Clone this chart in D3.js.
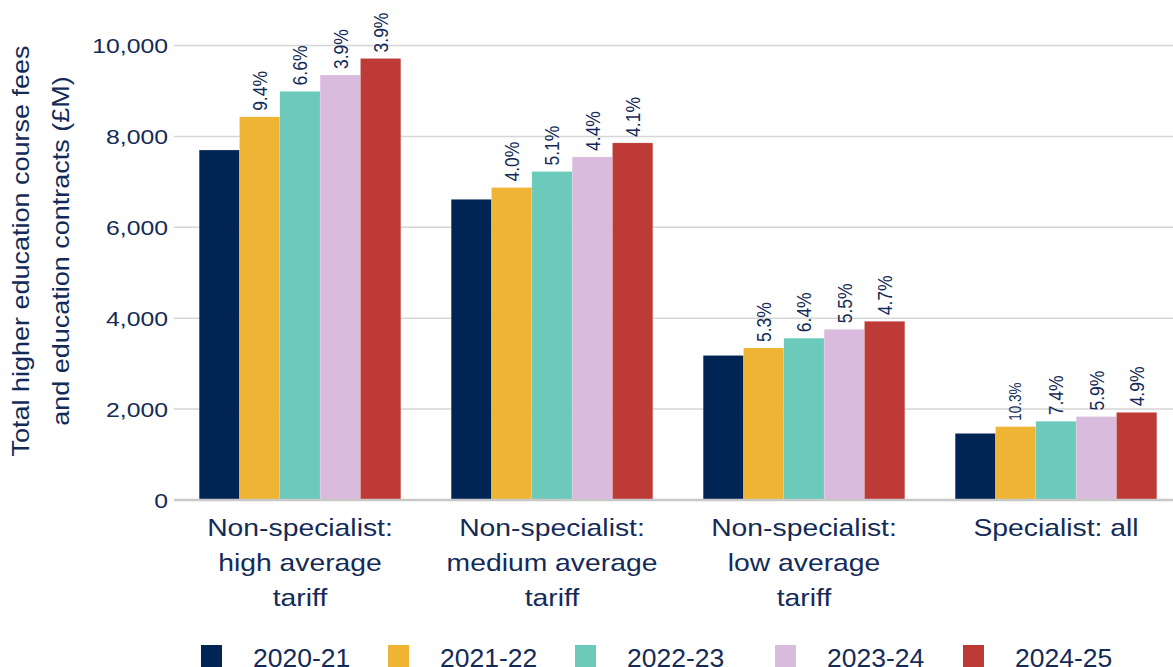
<!DOCTYPE html>
<html>
<head>
<meta charset="utf-8">
<script src="https://cdn.jsdelivr.net/npm/d3@7"></script>
<style>
  body { margin: 0; background: #fff; }
  text { font-family: "Liberation Sans", Arial, sans-serif; fill: #142b58; }
</style>
</head>
<body>
<script>
// data
var categories = [
  ["Non-specialist:", "high average", "tariff"],
  ["Non-specialist:", "medium average", "tariff"],
  ["Non-specialist:", "low average", "tariff"],
  ["Specialist: all"]
];
var years = ["2020-21", "2021-22", "2022-23", "2023-24", "2024-25"];
var colours = ["#002554", "#f0b435", "#6ccabb", "#d9bbdd", "#be3a36"];
var values = [
  [7700, 8430, 8990, 9350, 9715],
  [6615, 6875, 7228, 7548, 7857],
  [3180, 3345, 3560, 3755, 3932],
  [1465, 1614, 1733, 1835, 1928]
];
var growth = [
  [null, "9.4%", "6.6%", "3.9%", "3.9%"],
  [null, "4.0%", "5.1%", "4.4%", "4.1%"],
  [null, "5.3%", "6.4%", "5.5%", "4.7%"],
  [null, "10.3%", "7.4%", "5.9%", "4.9%"]
];
var yTicks = [0, 2000, 4000, 6000, 8000, 10000];

var W = 1173, H = 667;
var pLeft = 174, pRight = 1173, pTop = 45.5, pBottom = 500;
var sx = 1.18; // text in the picture is a bit wide

var svg = d3.select("body").append("svg")
  .attr("width", W).attr("height", H);

var y = d3.scaleLinear().domain([0, 10000]).range([pBottom, pTop]);
var x0 = d3.scaleBand().domain(d3.range(categories.length)).range([pLeft, pLeft + 1008]).paddingInner(0.2).paddingOuter(0.1);
var x1 = d3.scaleBand().domain(d3.range(years.length)).range([0, x0.bandwidth()]);

// gridlines
svg.append("g").selectAll("line")
  .data(yTicks.filter(d => d > 0))
  .enter().append("line")
  .attr("x1", pLeft).attr("x2", pRight)
  .attr("y1", d => y(d)).attr("y2", d => y(d))
  .attr("stroke", "#d6d6d6").attr("stroke-width", 1.5);

// y labels
svg.append("g").selectAll("text")
  .data(yTicks)
  .enter().append("text")
  .attr("transform", d => "translate(" + (pLeft - 6) + "," + y(d) + ") scale(" + sx + ",1)")
  .attr("dy", "0.36em")
  .attr("text-anchor", "end")
  .style("font-size", "21px")
  .text(d => d3.format(",")(d));

// y title
var yt = svg.append("text")
  .attr("transform", "translate(29,251) scale(0.9,1) rotate(-90)")
  .attr("text-anchor", "middle")
  .style("font-size", "27px");
yt.append("tspan").attr("x", 0).attr("dy", 0).text("Total higher education course fees");
yt.append("tspan").attr("x", 0).attr("dy", 44).text("and education contracts (£M)");

// bars
var groups = svg.append("g").selectAll("g")
  .data(values)
  .enter().append("g")
  .attr("transform", (d, i) => "translate(" + x0(i) + ",0)");

groups.selectAll("rect")
  .data(d => d)
  .enter().append("rect")
  .attr("x", (d, j) => x1(j))
  .attr("width", x1.bandwidth())
  .attr("y", d => y(d))
  .attr("height", d => pBottom - y(d))
  .attr("fill", (d, j) => colours[j])
  .attr("stroke", "#ffffff").attr("stroke-opacity", 0.3).attr("stroke-width", 0.5);

// growth labels
groups.each(function(d, i) {
  d3.select(this).selectAll("text.lab")
    .data(d.map((v, j) => ({ v: v, g: growth[i][j], j: j })).filter(e => e.g))
    .enter().append("text")
    .attr("class", "lab")
    .attr("transform", e => "translate(" + (x1(e.j) + x1.bandwidth() / 2) + "," + (y(e.v) - 6) + ") scale(" + sx + ",1) rotate(-90)")
    .attr("dy", "0.36em")
    .style("font-size", e => e.g.length > 4 ? "13.5px" : "17.5px")
    .text(e => e.g);
});

// baseline
svg.append("line")
  .attr("x1", pLeft).attr("x2", pRight)
  .attr("y1", pBottom).attr("y2", pBottom)
  .attr("stroke", "#c8c8c8").attr("stroke-width", 2.5);

// x labels
svg.append("g").selectAll("text")
  .data(categories)
  .enter().append("text")
  .attr("text-anchor", "middle")
  .style("font-size", "24px")
  .attr("transform", (d, i) => "translate(" + (x0(i) + x0.bandwidth() / 2) + ",536) scale(" + sx + ",1)")
  .each(function(d) {
    d3.select(this).selectAll("tspan")
      .data(d).enter().append("tspan")
      .attr("x", 0).attr("y", (t, k) => k * 35)
      .text(t => t);
  });

// legend
var legX = [201, 388, 575, 775, 963];
var leg = svg.append("g").selectAll("g")
  .data(years)
  .enter().append("g")
  .attr("transform", (d, i) => "translate(" + legX[i] + ",645)");
leg.append("rect")
  .attr("width", 21).attr("height", 22)
  .attr("fill", (d, i) => colours[i]);
leg.append("text")
  .attr("transform", "translate(52,22) scale(1.06,1)")
  .style("font-size", "25px")
  .text(d => d);
</script>
</body>
</html>
